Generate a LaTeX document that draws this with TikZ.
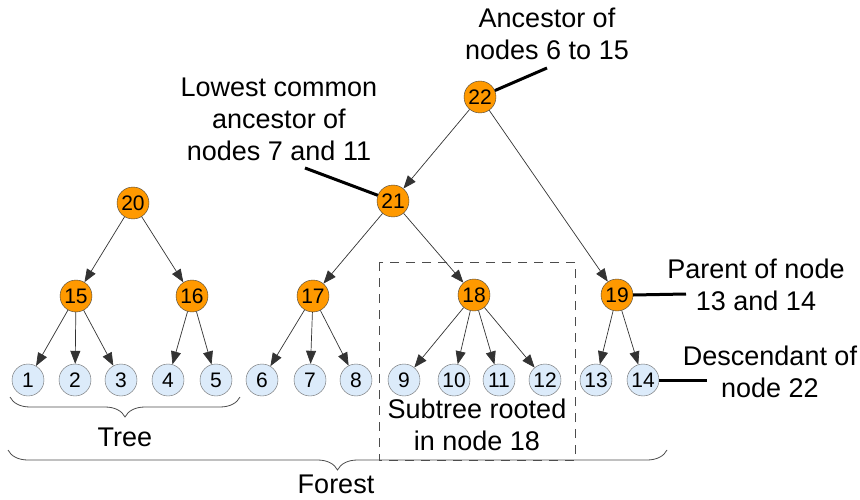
\documentclass[tikz,border=0pt]{standalone}
\usepackage{fontspec}
\setmainfont{Liberation Sans}
\usetikzlibrary{arrows.meta,decorations.pathreplacing}
\definecolor{inner}{HTML}{FF9900}
\definecolor{leaf}{HTML}{DCEBFA}
\tikzset{
  inn/.style={circle,draw=black!75,fill=inner,minimum size=32pt,inner sep=0pt,font=\fontsize{21}{21}\selectfont},
  lf/.style={circle,draw=black!60,fill=leaf,minimum size=32pt,inner sep=0pt,font=\fontsize{21}{21}\selectfont},
  edge/.style={draw=black!80,line width=0.7pt,-{Triangle[length=13pt,width=10pt]}},
  ann/.style={line width=3pt},
  lbl/.style={align=center,font=\fontsize{27}{32}\selectfont,inner sep=0pt},
  brc/.style={draw=black!70,line width=0.8pt,decorate,decoration={brace,mirror,amplitude=20pt}}
}
\begin{document}
\begin{tikzpicture}[x=1pt,y=-1pt]
\useasboundingbox (0,0) rectangle (860,500);
% inner nodes
\node[inn] (n22) at (480,97) {22};
\node[inn] (n21) at (393,201) {21};
\node[inn] (n20) at (133,203) {20};
\node[inn] (n15) at (76,296) {15};
\node[inn] (n16) at (192,296) {16};
\node[inn] (n17) at (313,296) {17};
\node[inn] (n18) at (474,295) {18};
\node[inn] (n19) at (617,295) {19};
% leaves
\node[lf] (n1) at (28,380) {1};
\node[lf] (n2) at (75,380) {2};
\node[lf] (n3) at (121,380) {3};
\node[lf] (n4) at (168,380) {4};
\node[lf] (n5) at (216,380) {5};
\node[lf] (n6) at (262,380) {6};
\node[lf] (n7) at (310,380) {7};
\node[lf] (n8) at (356,380) {8};
\node[lf] (n9) at (404,380) {9};
\node[lf] (n10) at (454,380) {10};
\node[lf] (n11) at (499,380) {11};
\node[lf] (n12) at (545,380) {12};
\node[lf] (n13) at (596,380) {13};
\node[lf] (n14) at (643,380) {14};
% edges
\foreach \a/\b in {n20/n15,n20/n16,n15/n1,n15/n2,n15/n3,n16/n4,n16/n5,
  n22/n21,n22/n19,n21/n17,n21/n18,n17/n6,n17/n7,n17/n8,
  n18/n9,n18/n10,n18/n11,n18/n12,n19/n13,n19/n14}
  \draw[edge] (\a) -- (\b);
% dashed subtree box
\draw[black!70,line width=1pt,dash pattern=on 9pt off 7pt] (379,262) rectangle (575,460);
\node[lbl] (sub) at (477,425) {Subtree rooted\\in node 18};
% braces
\draw[brc] (10,397) -- (240,397);
\node[lbl] (tree) at (125,437) {Tree};
\draw[brc] (8,450) -- (667,450);
\node[lbl] (forest) at (336,484) {Forest};
% annotations
\node[lbl] (anc) at (547,34) {Ancestor of\\nodes 6 to 15};
\coordinate (ancp) at (547,68);
\draw[ann] (ancp) -- (n22);
\node[lbl] (lca) at (279,119) {Lowest common\\ancestor of\\nodes 7 and 11};
\coordinate (lcap) at (305,168);
\draw[ann] (lcap) -- (n21);
\node[lbl] (par) at (756,285) {Parent of node\\13 and 14};
\coordinate (parp) at (686,294);
\draw[ann] (n19.east) -- (parp);
\node[lbl] (desc) at (770,372) {Descendant of\\node 22};
\coordinate (descp) at (707,380);
\draw[ann] (n14.east) -- (descp);
\end{tikzpicture}
\end{document}
